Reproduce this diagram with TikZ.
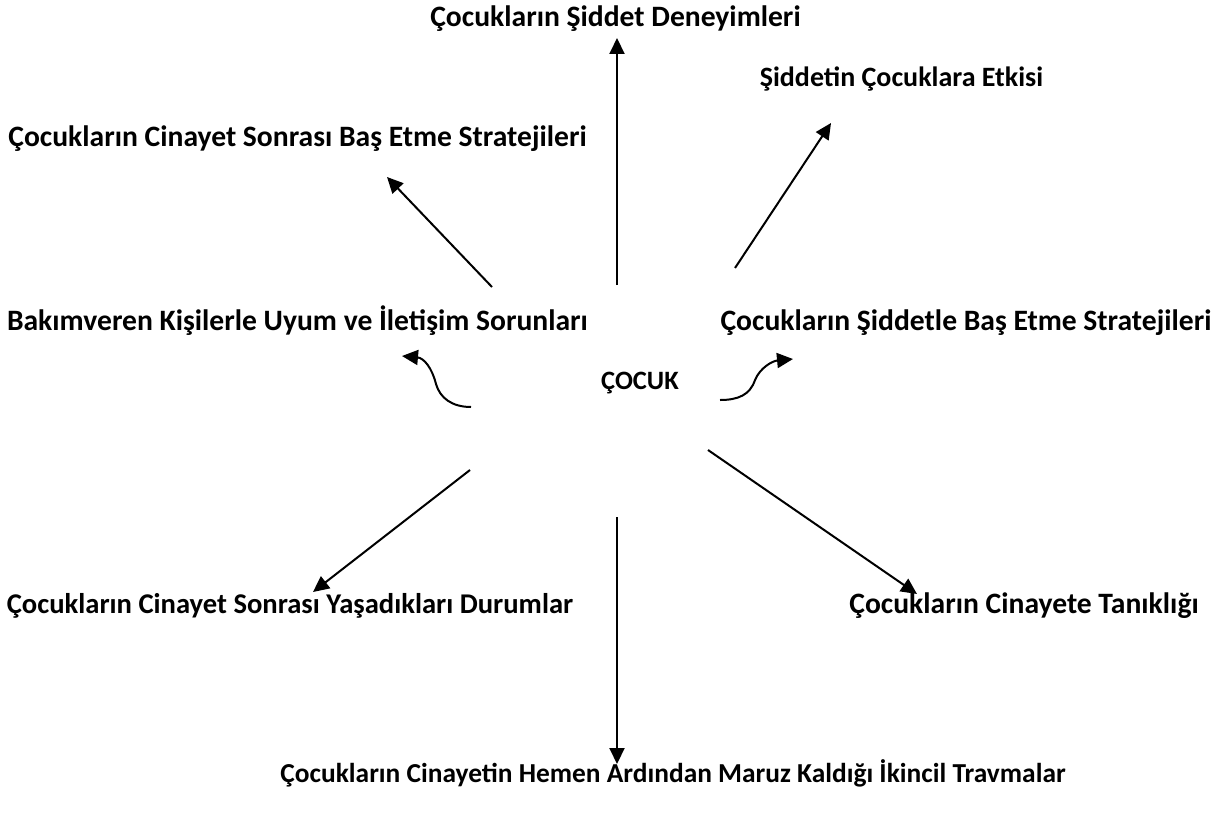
\documentclass[tikz,border=0pt]{standalone}
\usepackage{fontspec}
\setmainfont{Carlito}
\usetikzlibrary{arrows.meta}
\begin{document}
\begin{tikzpicture}[x=1pt,y=-1pt,
  lbl/.style={font=\fontsize{29.6}{34}\selectfont\bfseries, inner sep=0pt, anchor=base},
  arr/.style={line width=2pt, -{Triangle[length=16pt,width=15pt]}}]
\useasboundingbox (0,0) rectangle (1222,816);
\node[lbl] (deney) at (615.5,27) {Çocukların Şiddet Deneyimleri};
\node[lbl, font=\fontsize{28}{32}\selectfont\bfseries] (etki) at (901.5,86) {Şiddetin Çocuklara Etkisi};
\node[lbl] (basetme) at (297.5,146) {Çocukların Cinayet Sonrası Baş Etme Stratejileri};
\node[lbl] (bakim) at (297.5,330) {Bakımveren Kişilerle Uyum ve İletişim Sorunları};
\node[lbl] (siddetle) at (966,330) {Çocukların Şiddetle Baş Etme Stratejileri};
\node[lbl, font=\fontsize{26.5}{30}\selectfont\bfseries] (cocuk) at (640,389) {ÇOCUK};
\node[lbl, font=\fontsize{28.6}{33}\selectfont\bfseries] (durum) at (290,613) {Çocukların Cinayet Sonrası Yaşadıkları Durumlar};
\node[lbl] (tanik) at (1024,613) {Çocukların Cinayete Tanıklığı};
\node[lbl, font=\fontsize{27.4}{31}\selectfont\bfseries] (travma) at (673,782) {Çocukların Cinayetin Hemen Ardından Maruz Kaldığı İkincil Travmalar};
% arrow coordinates
\coordinate (u0) at (617,285); \coordinate (u1) at (617,38);
\coordinate (d0) at (617,517); \coordinate (d1) at (617,764);
\coordinate (ul0) at (492,287); \coordinate (ul1) at (387,177);
\coordinate (ur0) at (735,268); \coordinate (ur1) at (831,123);
\coordinate (ll0) at (470,470); \coordinate (ll1) at (313,592);
\coordinate (lr0) at (708,450); \coordinate (lr1) at (917,594);
\coordinate (cl0) at (471,407); \coordinate (clm) at (436,384); \coordinate (cl1) at (402,356);
\coordinate (cr0) at (720,400); \coordinate (crm) at (755,380); \coordinate (cr1) at (793,359);
\draw[arr] (u0) -- (u1);
\draw[arr] (d0) -- (d1);
\draw[arr] (ul0) -- (ul1);
\draw[arr] (ur0) -- (ur1);
\draw[arr] (ll0) -- (ll1);
\draw[arr] (lr0) -- (lr1);
\draw[arr] (cl0) .. controls (452,407) and (440,398) .. (clm) .. controls (432,368) and (424,358) .. (cl1);
\draw[arr] (cr0) .. controls (738,400) and (750,395) .. (crm) .. controls (760,368) and (772,361) .. (cr1);
\end{tikzpicture}
\end{document}
